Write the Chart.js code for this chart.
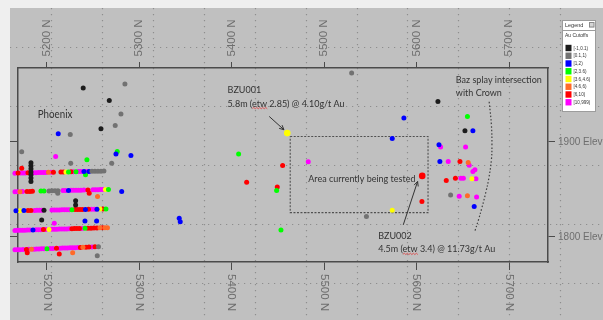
<!DOCTYPE html>
<html>
<head>
<meta charset="utf-8">
<script src="https://cdn.jsdelivr.net/npm/chart.js@4.4.1/dist/chart.umd.min.js"></script>
<style>
  html, body { margin: 0; padding: 0; background: #c0c0c0; overflow: hidden; }
  #wrap { position: relative; width: 603px; height: 320px; }
</style>
</head>
<body>
<div id="wrap"><canvas id="section" width="603" height="320"></canvas></div>
<script>
// Long section axes: northing (N) and elevation (Elev)
const northTicks = [5200, 5300, 5400, 5500, 5600, 5700];
const elevTicks = [1800, 1900];
// Local dotted reference grid
const gridNorth = [5205, 5260, 5315, 5370, 5425, 5480, 5535, 5590, 5645, 5700, 5755];
const gridElev = [1999, 1937, 1875, 1813, 1751];

// Au cutoff classes (g/t)
const cutoffLabels = ['[-1,0.1)', '[0.1,1)', '[1,2)', '[2,3.6)', '[3.6,4.6)', '[4.6,6)', '[6,10)', '[10,999)'];
const cutoffColors = ['#1c1c1c', '#727272', '#0000ff', '#00ff00', '#ffff00', '#ff6a28', '#ff0000', '#ff00ff'];

// Composite intervals per cutoff class, [northing, elevation]
const auBelow01 = [
  [5183,1877.6],[5183,1874.5],[5183,1871.3],[5183,1868.1],[5183,1865.0],[5183,1861.8],[5183,1858.1],
  [5197.1,1827.9],[5231.3,1837.9],[5231.3,1833.4],[5194.6,1817.6],
  [5239.5,1956.3],[5267.7,1943.2],[5258.7,1913.4],
  [5577.6,2006.0],[5623.0,1942.2],[5652.2,1911.3]
];
const au01to1 = [
  [5249.0,1868.7],[5252.2,1868.8],[5255.4,1868.9],[5258.7,1868.9],[5261.9,1869.0],
  [5202.5,1848.1],[5205.7,1848.2],[5209.0,1848.3],[5212.2,1848.3],
  [5160.3,1827.1],[5163.0,1827.2],[5256.0,1789.4],
  [5212,1845.7],[5254.7,1780.1],[5226,1877.3],[5270.3,1877.3],[5284.6,1960.5],[5280.3,1928.9],
  [5274.1,1916.9],[5225.5,1907.4],[5173.0,1889.2],
  [5576.5,2039.4],[5582.7,1982.6],[5626.2,1983.9],[5645.0,2013.1],[5529.7,1972.0],[5636.7,1843.9],[5545.7,1821.1]
];
const au1to2 = [
  [5240.3,1868.5],[5245.7,1868.6],[5223.6,1848.6],
  [5166.8,1827.2],[5175.4,1827.4],[5241.9,1828.7],[5254.4,1828.9],[5185.2,1807.1],
  [5281.1,1847.4],[5241.4,1816.6],[5254.0,1816.6],[5212.5,1908.2],[5274.9,1886.8],[5291.1,1885.3],
  [5343.3,1819.4],[5344.4,1815.8],
  [5586.2,1924.7],[5660.8,1911.3],[5573.6,1903.2],[5624.1,1896.6],[5625.1,1879.0],[5662.2,1831.8]
];
const au2to36 = [
  [5223.6,1868.1],[5231.7,1868.3],[5193.8,1847.9],[5197.1,1848.0],[5266.8,1849.7],
  [5227.3,1828.4],[5264.1,1829.1],[5241.4,1808.8],[5200.3,1787.4],
  [5242,1865.0],[5243.5,1880.8],[5276.3,1889.5],
  [5407.5,1886.8],[5448.6,1848.5],[5453.3,1807.1],[5654.9,1926.4]
];
const au36to46 = [
  [5220.8,1868.0],[5263.5,1849.6],[5171.1,1827.3],[5257.6,1829.0],[5202.5,1807.6],
  [5659.7,1860.8],[5573.6,1827.8]
];
const au46to6 = [
  [5201.9,1867.6],[5171.1,1847.3],[5257.6,1809.3],[5263.0,1809.4],[5265.7,1809.5],
  [5183.6,1786.8],[5239.2,1788.8],[5255,1842.2],[5228.1,1783.2],
  [5655.7,1878.1],[5654.9,1842.9]
];
const au6to10 = [
  [5169.0,1866.9],[5179.8,1867.1],[5182.5,1867.2],[5207.3,1867.7],[5215.4,1867.9],[5218.1,1868.0],[5226.3,1868.2],
  [5178.7,1847.5],[5181.9,1847.6],[5184.6,1847.7],[5244.6,1849.1],
  [5179.8,1827.5],[5183.0,1827.6],[5230.6,1828.5],[5233.3,1828.5],[5236.0,1828.6],[5238.7,1828.6],[5245.2,1828.8],[5260.9,1829.1],
  [5160.3,1806.4],[5196.5,1807.5],[5227.3,1808.4],[5230.0,1808.5],[5232.7,1808.5],[5235.4,1808.6],[5244.6,1808.9],
  [5247.9,1809.0],[5251.1,1809.1],[5254.4,1809.2],[5260.3,1809.3],
  [5178.1,1786.6],[5210.6,1787.8],[5236.5,1788.7],[5242.5,1789.0],[5245.7,1789.1],[5252.2,1789.3],
  [5173,1872.0],[5246,1845.7],[5179.0,1783.2],[5213.6,1781.8],
  [5455.1,1874.8],[5416.2,1857.3],[5449.3,1852.1],
  [5646.8,1879.0],[5632.0,1859.0],[5641.9,1861.5],[5605.7,1837.1]
];
const au10plus = [
  [5160.3,1866.7],[5163.0,1866.7],[5165.7,1866.8],[5171.7,1866.9],[5174.4,1867.0],[5177.1,1867.0],[5185.7,1867.2],
  [5188.4,1867.3],[5191.1,1867.4],[5193.8,1867.4],[5196.5,1867.5],[5199.2,1867.5],[5204.6,1867.7],[5229.0,1868.2],
  [5234.4,1868.4],[5237.1,1868.4],[5243.0,1868.6],
  [5160.3,1847.1],[5163.0,1847.1],[5165.7,1847.2],[5168.4,1847.3],[5173.8,1847.4],[5217.6,1848.5],[5220.3,1848.5],
  [5226.3,1848.7],[5229.0,1848.7],[5231.7,1848.8],[5234.4,1848.9],[5237.1,1848.9],[5240.3,1849.0],[5250.0,1849.3],
  [5252.7,1849.3],[5255.4,1849.4],[5258.1,1849.5],[5260.8,1849.5],
  [5186.8,1827.6],[5189.5,1827.7],[5192.2,1827.7],[5194.9,1827.8],[5205.7,1828.0],[5208.4,1828.0],[5211.1,1828.1],
  [5213.8,1828.1],[5216.5,1828.2],[5219.2,1828.3],[5221.9,1828.3],[5224.6,1828.4],[5248.4,1828.8],[5251.7,1828.9],
  [5163.0,1806.5],[5165.7,1806.6],[5168.4,1806.7],[5171.1,1806.7],[5173.8,1806.8],[5176.5,1806.9],[5179.2,1807.0],
  [5181.9,1807.0],[5188.4,1807.2],[5191.1,1807.3],[5193.8,1807.4],[5199.2,1807.6],[5205.7,1807.7],[5208.4,1807.8],
  [5211.1,1807.9],[5213.8,1808.0],[5216.5,1808.1],[5219.2,1808.1],[5221.9,1808.2],[5224.6,1808.3],[5238.1,1808.7],
  [5160.3,1786.0],[5163.0,1786.1],[5165.7,1786.2],[5168.4,1786.3],[5171.1,1786.4],[5174.4,1786.5],[5180.8,1786.7],
  [5186.3,1786.9],[5189.0,1787.0],[5191.7,1787.1],[5194.4,1787.2],[5197.1,1787.3],[5203.6,1787.6],[5206.8,1787.7],
  [5214.4,1787.9],[5217.1,1788.0],[5219.8,1788.1],[5222.5,1788.2],[5225.2,1788.3],[5227.9,1788.4],[5230.6,1788.5],
  [5233.8,1788.6],[5249.0,1789.2],
  [5161.4,1817.6],[5208.2,1814.2],[5209.7,1884.3],[5482.8,1878.7],
  [5625.9,1894.2],[5652.9,1894.2],[5634.1,1879.0],[5656.8,1875.0],[5663.0,1870.3],[5660.8,1868.5],
  [5647.8,1861.5],[5650.5,1861.5],[5664.1,1860.8],[5646.0,1842.4],[5664.8,1841.8]
];
const cutoffClasses = [auBelow01, au01to1, au1to2, au2to36, au36to46, au46to6, au6to10, au10plus];

// Reported BZU intersections: [northing, elevation], cutoff class index
const bzuHoles = ['BZU001', 'BZU002'];
const bzuNorth = [5460.1, 5606.0];
const bzuElev = [1908.9, 1863.9];
const bzuClass = [4, 6];

// Outline of the area under test and the Baz splay trace
const testAreaNorth = [5463.3, 5612.3, 5612.3, 5463.3, 5463.3];
const testAreaElev = [1905.3, 1905.3, 1825.3, 1825.3, 1905.3];
const splayNorth = [5678.4, 5680.8, 5681.4, 5680.8, 5678.1, 5674.9, 5670.5, 5666.8, 5663.0];
const splayElev = [1941.8, 1917.6, 1896.6, 1880.8, 1861.8, 1847.1, 1830.3, 1817.6, 1806.0];

// Notes placed in section coordinates
const notes = [
  { text: 'Phoenix', n: 5190.3, e: 1928.2, big: true },
  { text: 'BZU001', n: 5395.6, e: 1954.5 },
  { text: '5.8m (etw 2.85) @ 4.10g/t Au', n: 5395.6, e: 1940.0, mark: 'etw' },
  { text: 'Area currently being tested', n: 5482.8, e: 1860.5 },
  { text: 'BZU002', n: 5558.4, e: 1800.8 },
  { text: '4.5m (etw 3.4) @ 11.73g/t Au', n: 5558.4, e: 1786.8, mark: 'etw' },
  { text: 'Baz splay intersection', n: 5642.4, e: 1965.3 },
  { text: 'with Crown', n: 5642.4, e: 1951.6 }
];
const arrows = [
  { from: [5440.6, 1926.4], to: [5456.5, 1912.4] },
  { from: [5585.5, 1812.4], to: [5601.0, 1858.0] }
];

const N_MIN = 5169, N_MAX = 5742, E_MIN = 1773.4, E_MAX = 1977.3;
const AXIS_COLOR = '#4b4b4b';
const LABEL_COLOR = '#6e6e6e';
const LABEL_FONT = '"Liberation Sans", Arial, sans-serif';
const NOTE_FONT = 'Lato, "Open Sans", sans-serif';

const toXY = (ns, es) => ns.map((n, i) => ({ x: n, y: es[i] }));

const datasets = cutoffClasses.map((pts, i) => ({
  label: cutoffLabels[i],
  data: pts.map(([n, e]) => ({ x: n, y: e })),
  backgroundColor: cutoffColors[i],
  borderWidth: 0,
  pointRadius: 2.5,
  clip: false
}));
bzuHoles.forEach((hole, i) => {
  datasets.unshift({
    label: hole,
    data: [{ x: bzuNorth[i], y: bzuElev[i] }],
    backgroundColor: cutoffColors[bzuClass[i]],
    borderWidth: 0,
    pointRadius: 3.3,
    clip: false
  });
});
datasets.push({
  label: 'Area currently being tested',
  data: toXY(testAreaNorth, testAreaElev),
  showLine: true, fill: false, pointRadius: 0,
  borderColor: '#505050', borderWidth: 1.1, borderDash: [2, 1.5]
});
datasets.push({
  label: 'Baz splay',
  data: toXY(splayNorth, splayElev),
  showLine: true, fill: false, pointRadius: 0, tension: 0.4,
  borderColor: '#404040', borderWidth: 1.2, borderDash: [1.5, 2]
});

const hiddenTicks = { display: false };
function axisGrid(len) {
  return { drawOnChartArea: false, drawTicks: true, tickLength: len, color: AXIS_COLOR, lineWidth: 1 };
}
const axisBorder = { display: true, color: AXIS_COLOR, width: 1.5 };

// Window backdrop and the dotted local grid
const backdrop = {
  id: 'backdrop',
  beforeDraw(chart) {
    const { ctx, width, height } = chart;
    const xs = chart.scales.x, ys = chart.scales.y;
    ctx.save();
    ctx.fillStyle = '#c0c0c0';
    ctx.fillRect(0, 0, width, height);
    ctx.strokeStyle = '#8e8e8e';
    ctx.lineWidth = 1.2;
    ctx.setLineDash([1.2, 4.8]);
    gridNorth.forEach(v => {
      const px = Math.round(xs.getPixelForValue(v)) + 0.5;
      ctx.beginPath(); ctx.moveTo(px, 8); ctx.lineTo(px, height); ctx.stroke();
    });
    gridElev.forEach(v => {
      const py = Math.round(ys.getPixelForValue(v)) + 0.5;
      ctx.beginPath(); ctx.moveTo(10, py); ctx.lineTo(width, py); ctx.stroke();
    });
    ctx.restore();
  }
};

function squiggle(ctx, x, y, w) {
  ctx.save();
  ctx.strokeStyle = '#e23b3b';
  ctx.lineWidth = 0.8;
  ctx.beginPath();
  let up = true;
  ctx.moveTo(x, y);
  for (let t = 1.5; t <= w; t += 1.5) {
    ctx.lineTo(x + t, up ? y - 1 : y + 0.3);
    up = !up;
  }
  ctx.stroke();
  ctx.restore();
}

// Text notes, leader arrows
const notesPlugin = {
  id: 'notes',
  afterDatasetsDraw(chart) {
    const { ctx } = chart;
    const xs = chart.scales.x, ys = chart.scales.y;
    ctx.save();
    ctx.fillStyle = '#333333';
    ctx.textAlign = 'left';
    ctx.textBaseline = 'middle';
    notes.forEach(nt => {
      const px = xs.getPixelForValue(nt.n), py = ys.getPixelForValue(nt.e);
      const sx = nt.big ? 0.93 : 0.9;
      ctx.font = (nt.big ? '10.5px ' : '10px ') + NOTE_FONT;
      ctx.save();
      ctx.translate(px, py);
      ctx.scale(sx, 1);
      ctx.fillText(nt.text, 0, 0);
      ctx.restore();
      if (nt.mark) {
        const idx = nt.text.indexOf(nt.mark);
        const x0 = px + sx * ctx.measureText(nt.text.slice(0, idx)).width;
        const w = sx * ctx.measureText(nt.mark).width;
        squiggle(ctx, x0, py + 5, w);
      }
    });
    ctx.strokeStyle = '#333333';
    ctx.lineWidth = 1;
    arrows.forEach(a => {
      const x1 = xs.getPixelForValue(a.from[0]), y1 = ys.getPixelForValue(a.from[1]);
      const x2 = xs.getPixelForValue(a.to[0]), y2 = ys.getPixelForValue(a.to[1]);
      const ang = Math.atan2(y2 - y1, x2 - x1);
      ctx.beginPath(); ctx.moveTo(x1, y1); ctx.lineTo(x2, y2); ctx.stroke();
      ctx.beginPath();
      ctx.moveTo(x2 - 5 * Math.cos(ang - 0.45), y2 - 5 * Math.sin(ang - 0.45));
      ctx.lineTo(x2, y2);
      ctx.lineTo(x2 - 5 * Math.cos(ang + 0.45), y2 - 5 * Math.sin(ang + 0.45));
      ctx.stroke();
    });
    ctx.restore();
  }
};

// Axis labels, legend panel and window frame
const framePlugin = {
  id: 'frame',
  afterDraw(chart) {
    const { ctx, width, height, chartArea } = chart;
    const xs = chart.scales.x, ys = chart.scales.y;
    ctx.save();
    ctx.font = '11.5px ' + LABEL_FONT;
    ctx.fillStyle = LABEL_COLOR;
    ctx.textAlign = 'left';
    ctx.textBaseline = 'middle';
    northTicks.forEach(v => {
      const px = xs.getPixelForValue(v);
      const label = v + ' N';
      ctx.save(); ctx.translate(px, chartArea.top - 11.5); ctx.rotate(-Math.PI / 2); ctx.fillText(label, 0, 0); ctx.restore();
      ctx.save(); ctx.translate(px, chartArea.bottom + 12); ctx.rotate(Math.PI / 2); ctx.fillText(label, 0, 0); ctx.restore();
    });
    elevTicks.forEach(v => {
      const py = ys.getPixelForValue(v);
      ctx.save(); ctx.translate(chartArea.right + 10, py + 0.5); ctx.scale(0.87, 1); ctx.fillText(v + ' Elev', 0, 0); ctx.restore();
    });

    // legend panel
    const lx = 562.5, ly = 20.5, lw = 33, lh = 91;
    ctx.fillStyle = '#ffffff';
    ctx.fillRect(lx, ly, lw, lh);
    ctx.strokeStyle = '#9c9c9c';
    ctx.lineWidth = 1;
    ctx.strokeRect(lx, ly, lw, lh);
    ctx.beginPath(); ctx.moveTo(lx, ly + 10); ctx.lineTo(lx + lw, ly + 10); ctx.stroke();
    ctx.fillStyle = '#d6d6d6';
    ctx.fillRect(589, 22, 5, 5.5);
    ctx.strokeStyle = '#8a8a8a';
    ctx.strokeRect(589.5, 22.5, 4.5, 4.5);
    ctx.fillStyle = '#333333';
    ctx.font = '5.5px ' + LABEL_FONT;
    ctx.fillText('Legend', 565, 25.7);
    ctx.font = '5px ' + LABEL_FONT;
    ctx.fillText('Au Cutoffs', 565, 35.5);
    cutoffLabels.forEach((lab, i) => {
      const cy = 48 + i * 7.75;
      ctx.fillStyle = cutoffColors[i];
      ctx.fillRect(565.5, cy - 3.2, 6, 6.4);
      ctx.fillStyle = '#333333';
      ctx.font = '4.6px ' + LABEL_FONT;
      ctx.fillText(lab, 573.5, cy + 0.3);
    });

    // window frame strips
    ctx.fillStyle = '#efefef';
    ctx.fillRect(0, 0, width, 8);
    ctx.fillRect(0, 0, 10, height);
    ctx.restore();
  }
};

new Chart(document.getElementById('section'), {
  type: 'scatter',
  data: { datasets },
  options: {
    responsive: false,
    animation: false,
    devicePixelRatio: 1,
    events: [],
    layout: { padding: 0 },
    plugins: { legend: { display: false }, tooltip: { enabled: false } },
    scales: {
      x: {
        type: 'linear', position: 'bottom', min: N_MIN, max: N_MAX,
        afterBuildTicks: s => { s.ticks = northTicks.map(v => ({ value: v })); },
        afterFit: s => { s.height = 58; },
        ticks: hiddenTicks, grid: axisGrid(8), border: axisBorder
      },
      xt: {
        type: 'linear', position: 'top', min: N_MIN, max: N_MAX,
        afterBuildTicks: s => { s.ticks = northTicks.map(v => ({ value: v })); },
        afterFit: s => { s.height = 68; },
        ticks: hiddenTicks, grid: axisGrid(6), border: axisBorder
      },
      y: {
        type: 'linear', position: 'right', min: E_MIN, max: E_MAX,
        afterBuildTicks: s => { s.ticks = elevTicks.map(v => ({ value: v })); },
        afterFit: s => { s.width = 55; },
        ticks: hiddenTicks, grid: axisGrid(7), border: axisBorder
      },
      yl: {
        type: 'linear', position: 'left', min: E_MIN, max: E_MAX,
        afterBuildTicks: s => { s.ticks = elevTicks.map(v => ({ value: v })); },
        afterFit: s => { s.width = 18; },
        ticks: hiddenTicks, grid: axisGrid(8), border: axisBorder
      }
    }
  },
  plugins: [backdrop, notesPlugin, framePlugin]
});
</script>
</body>
</html>
